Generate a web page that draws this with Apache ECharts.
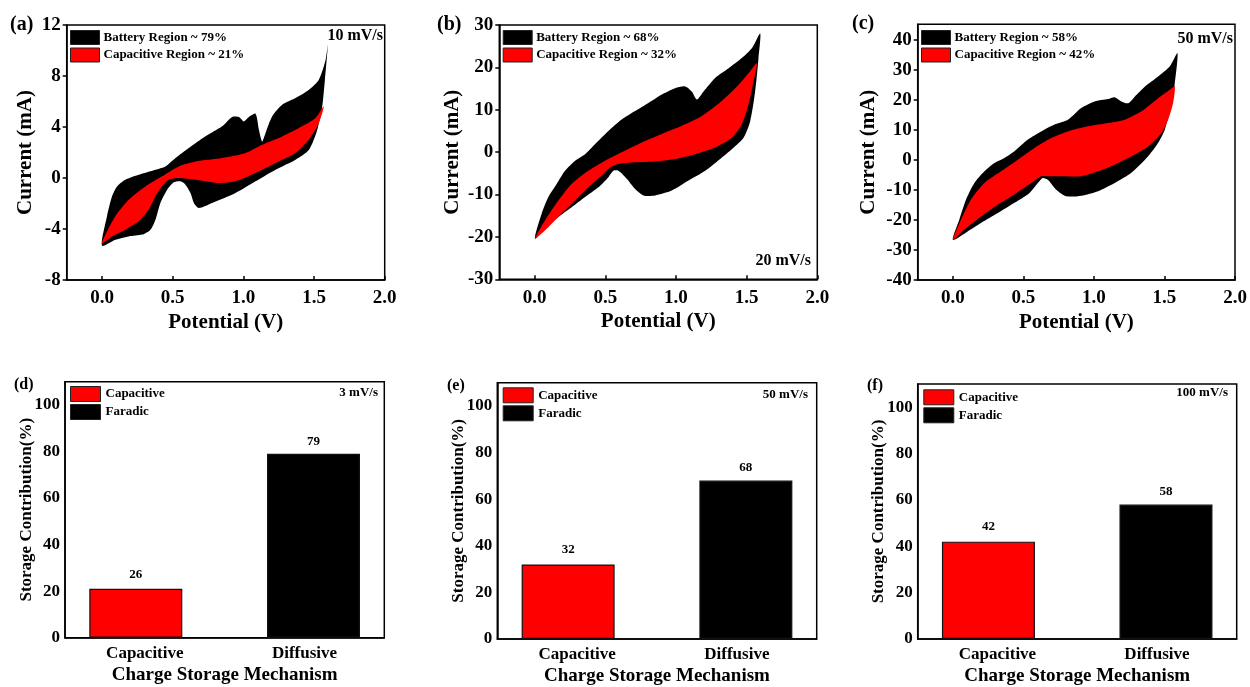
<!DOCTYPE html>
<html>
<head>
<meta charset="utf-8">
<script src="https://cdn.jsdelivr.net/npm/echarts@6/dist/echarts.min.js"></script>
<style>
  html, body { margin: 0; padding: 0; background: #fff; }
  #main { width: 1250px; height: 687px; }
</style>
</head>
<body>
<div id="main"></div>
<script>
  // CV loops: [potential (V), current (mA)], anodic branch then cathodic branch
  const batteryA = [
    [0.0, -5.3], [0.035, -3.0], [0.071, -1.44], [0.106, -0.66], [0.165, -0.13], [0.26, 0.26],
    [0.378, 0.65], [0.449, 0.91], [0.52, 1.57], [0.614, 2.35], [0.732, 3.27], [0.85, 4.05],
    [0.921, 4.78], [0.968, 4.78], [1.003, 4.44], [1.039, 4.78], [1.086, 5.04], [1.11, 3.79],
    [1.133, 2.87], [1.157, 3.53], [1.204, 4.84], [1.275, 5.75], [1.369, 6.27], [1.464, 6.93],
    [1.534, 7.71], [1.582, 9.28], [1.598, 10.46], [1.577, 7.71], [1.558, 5.62], [1.523, 3.79],
    [1.464, 2.22], [1.369, 1.44], [1.228, 0.65], [1.086, -0.26], [0.944, -1.18], [0.779, -1.96],
    [0.685, -2.35], [0.65, -1.96], [0.626, -1.18], [0.59, -0.52], [0.555, -0.26], [0.508, -0.34],
    [0.461, -0.92], [0.413, -1.96], [0.378, -3.27], [0.343, -4.05], [0.284, -4.44], [0.189, -4.58],
    [0.094, -4.84]
  ];
  const capacitiveA = [
    [0.0, -5.1], [0.094, -3.0], [0.189, -1.7], [0.307, -0.66], [0.425, 0.13], [0.543, 0.91],
    [0.661, 1.3], [0.85, 1.57], [1.015, 1.96], [1.133, 2.61], [1.275, 3.26], [1.416, 4.05],
    [1.51, 4.7], [1.569, 5.62], [1.534, 4.31], [1.463, 3.0], [1.369, 1.96], [1.228, 1.18],
    [1.086, 0.39], [0.944, -0.26], [0.826, -0.39], [0.661, -0.13], [0.543, 0.0], [0.472, -0.13],
    [0.425, -0.65], [0.378, -1.44], [0.331, -2.48], [0.26, -3.4], [0.165, -4.05], [0.071, -4.58]
  ];
  const batteryB = [
    [0.003, -20.4], [0.05, -14.5], [0.097, -10.6], [0.156, -7.5], [0.215, -4.4], [0.286, -2],
    [0.357, -0.47], [0.427, 1.87], [0.522, 5.0], [0.616, 7.7], [0.711, 9.7], [0.805, 11.6],
    [0.9, 13.6], [0.994, 15.1], [1.065, 15.5], [1.112, 14.3], [1.148, 12.4], [1.195, 14.3],
    [1.277, 17.5], [1.372, 19.8], [1.466, 22.2], [1.537, 24.5], [1.596, 28.0], [1.584, 22.2],
    [1.56, 14.3], [1.525, 7.3], [1.478, 3.4], [1.405, 1.0], [1.325, -1.25], [1.207, -4.4],
    [1.089, -6.7], [0.97, -9.06], [0.852, -10.2], [0.77, -10.2], [0.711, -8.7], [0.652, -6.3],
    [0.593, -4.4], [0.557, -4.4], [0.522, -5.9], [0.451, -8.3], [0.357, -10.6], [0.262, -13],
    [0.168, -15.3], [0.085, -17.7]
  ];
  const capacitiveB = [
    [0.003, -20.4], [0.073, -16.1], [0.168, -11.4], [0.262, -7.5], [0.38, -4.4], [0.498, -2],
    [0.616, 0], [0.758, 2.3], [0.9, 4.3], [1.041, 6.2], [1.183, 8.5], [1.325, 12.1],
    [1.443, 15.9], [1.525, 19.1], [1.573, 21.0], [1.549, 16.7], [1.514, 11.3], [1.466, 6.6],
    [1.395, 3.4], [1.277, 1.1], [1.136, -0.47], [0.994, -1.6], [0.852, -2.2], [0.711, -2.4],
    [0.593, -2.8], [0.534, -3.6], [0.475, -5.5], [0.38, -8.3], [0.286, -11.4], [0.191, -14.5],
    [0.097, -17.7]
  ];
  const batteryC = [
    [0.0, -26.6], [0.045, -19.9], [0.093, -13.2], [0.152, -7.7], [0.223, -3.8], [0.294, -1],
    [0.365, 0.66], [0.436, 2.9], [0.531, 6.8], [0.626, 9.5], [0.72, 11.8], [0.815, 13.4],
    [0.91, 17.3], [1.005, 19.5], [1.1, 20.3], [1.147, 20.9], [1.194, 19.5], [1.242, 18.9],
    [1.289, 21.1], [1.36, 24.4], [1.455, 27.8], [1.538, 31.2], [1.592, 35.6], [1.573, 25.5],
    [1.538, 16.8], [1.502, 10.1], [1.455, 5.7], [1.384, 1.2], [1.265, -4.3], [1.147, -7.7],
    [1.029, -10.4], [0.91, -11.9], [0.804, -12.1], [0.732, -9.9], [0.673, -6.6], [0.637, -6.0],
    [0.602, -7.7], [0.543, -11], [0.436, -14.3], [0.318, -17.7], [0.199, -21], [0.104, -23.8]
  ];
  const capacitiveC = [
    [0.0, -26.6], [0.057, -19.9], [0.128, -13.2], [0.223, -7.7], [0.341, -3.8], [0.46, 0.1],
    [0.578, 4], [0.697, 7.3], [0.815, 9.5], [0.957, 11.2], [1.1, 12.3], [1.218, 13.4],
    [1.336, 16.2], [1.455, 20.6], [1.538, 23.4], [1.573, 24.5], [1.561, 19], [1.526, 13.4],
    [1.479, 9], [1.384, 4.5], [1.265, 1.2], [1.147, -1.6], [1.029, -3.8], [0.91, -5.4],
    [0.792, -5.4], [0.673, -5.4], [0.626, -5.4], [0.555, -7.7], [0.436, -11.5], [0.318, -14.9],
    [0.199, -18.8], [0.081, -23.2]
  ];

  const cvLegends = [
    ['Battery Region ~ 79%', 'Capacitive Region ~ 21%'],
    ['Battery Region ~ 68%', 'Capacitive Region ~ 32%'],
    ['Battery Region ~ 58%', 'Capacitive Region ~ 42%']
  ];
  const potentialTicks = [0, 0.5, 1.0, 1.5, 2.0];
  const currentTicks = [
    [-8, -4, 0, 4, 8, 12],
    [-30, -20, -10, 0, 10, 20, 30],
    [-40, -30, -20, -10, 0, 10, 20, 30, 40]
  ];

  // bar panels
  const mechanisms = ['Capacitive', 'Diffusive'];
  const capacitiveShare = [21, 32, 42];
  const faradicShare = [79, 68, 58];
  const capacitiveLabels = ['26', '32', '42'];
  const faradicLabels = ['79', '68', '58'];
  const contributionTicks = [0, 20, 40, 60, 80, 100];

  const FONT = 'Liberation Serif';
  const grids = [
    { left: 66.7, top: 25, width: 318, height: 255 },
    { left: 499.3, top: 25, width: 318, height: 254.3 },
    { left: 917.7, top: 24.3, width: 317.3, height: 255.7 },
    { left: 65, top: 381.7, width: 319.3, height: 256 },
    { left: 497.3, top: 382.7, width: 319.4, height: 256.6 },
    { left: 917.7, top: 384, width: 319, height: 256 }
  ];
  const yRanges = [[-8, 12], [-30, 30], [-40, 45.2]];
  const yNameGaps = [30.5, 36.5, 38.5];
  const barNameGaps = [29.5, 30, 30.5];

  function txt(size) {
    return { fontFamily: FONT, fontWeight: 'bold', fontSize: size, color: '#000' };
  }
  const axisLine = { show: true, onZero: false, lineStyle: { color: '#000', width: 1.5 } };

  let chart = echarts.init(document.getElementById('main'));

  let xAxes = [], yAxes = [], series = [], legends = [];

  function loopSeries(name, color, idx, pts) {
    return {
      type: 'custom',
      name: name,
      xAxisIndex: idx,
      yAxisIndex: idx,
      itemStyle: { color: color },
      data: pts,
      encode: { x: 0, y: 1 },
      silent: true,
      renderItem: function (params, api) {
        if (params.dataIndex !== 0) return null;
        return {
          type: 'polygon',
          shape: { points: pts.map(p => api.coord(p)), smooth: 0.25 },
          style: { fill: color }
        };
      }
    };
  }

  const loops = [[batteryA, capacitiveA], [batteryB, capacitiveB], [batteryC, capacitiveC]];
  const legendTops = [[70, 30], [502.7, 30], [921, 30]];

  for (let k = 0; k < 3; k++) {
    xAxes.push({
      type: 'value', gridIndex: k, min: -0.25, max: 2.0,
      axisLine: axisLine,
      axisTick: { inside: true, length: 4, lineStyle: { width: 1.5 }, customValues: potentialTicks },
      axisLabel: Object.assign(txt(19), { margin: 9, customValues: potentialTicks,
        formatter: v => v.toFixed(1) }),
      splitLine: { show: false },
      name: 'Potential (V)', nameLocation: 'middle', nameGap: 32, nameTextStyle: txt(21),
      nameMoveOverlap: false
    });
    yAxes.push({
      type: 'value', gridIndex: k, min: yRanges[k][0], max: yRanges[k][1],
      axisLine: axisLine,
      axisTick: { inside: false, length: 4, lineStyle: { width: 1.5 }, customValues: currentTicks[k] },
      axisLabel: Object.assign(txt(19), { margin: 6, customValues: currentTicks[k] }),
      splitLine: { show: false },
      name: 'Current (mA)', nameLocation: 'middle', nameGap: yNameGaps[k], nameTextStyle: txt(21),
      nameMoveOverlap: false
    });
    series.push(loopSeries(cvLegends[k][0], '#000000', k, loops[k][0]));
    series.push(loopSeries(cvLegends[k][1], '#ff0000', k, loops[k][1]));
    legends.push({
      left: legendTops[k][0], top: legendTops[k][1], orient: 'vertical', padding: 0,
      data: cvLegends[k], icon: 'rect', itemWidth: 29, itemHeight: 14, itemGap: 2.5,
      itemStyle: { borderColor: '#222', borderWidth: 1 },
      textStyle: Object.assign(txt(13), { padding: [0, 0, 0, -1] }), selectedMode: false
    });
  }

  const barLegendPos = [[70, 386], [502.7, 387.3], [923.3, 389.3]];
  for (let k = 0; k < 3; k++) {
    let gi = k + 3;
    xAxes.push({
      type: 'category', gridIndex: gi, data: mechanisms,
      axisLine: axisLine,
      axisTick: { inside: true, length: 4, alignWithLabel: true, lineStyle: { width: 1.5 } },
      axisLabel: Object.assign(txt(17), { margin: 7 }),
      name: 'Charge Storage Mechanism', nameLocation: 'middle', nameGap: 28, nameTextStyle: txt(19),
      nameMoveOverlap: false
    });
    yAxes.push({
      type: 'value', gridIndex: gi, min: 0, max: 110,
      axisLine: axisLine,
      axisTick: { inside: false, length: 4, lineStyle: { width: 1.5 }, customValues: contributionTicks },
      axisLabel: Object.assign(txt(17), { margin: 5, customValues: contributionTicks }),
      splitLine: { show: false },
      name: 'Storage Contribution(%)', nameLocation: 'middle', nameGap: barNameGaps[k],
      nameTextStyle: txt(17), nameMoveOverlap: false
    });
    series.push({
      type: 'bar', name: 'Capacitive', xAxisIndex: gi, yAxisIndex: gi,
      data: [capacitiveShare[k], '-'], barWidth: 93, barGap: '-80.6%',
      itemStyle: { color: '#ff0000', borderColor: '#111', borderWidth: 1.2 },
      label: { show: true, position: 'top', distance: 8, ...txt(13),
        formatter: p => capacitiveLabels[k] }
    });
    series.push({
      type: 'bar', name: 'Faradic', xAxisIndex: gi, yAxisIndex: gi,
      data: ['-', faradicShare[k]], barWidth: 93, barGap: '-80.6%',
      itemStyle: { color: '#000000', borderColor: '#111', borderWidth: 1.2 },
      label: { show: true, position: 'top', distance: 6, ...txt(13),
        formatter: p => faradicLabels[k] }
    });
    legends.push({
      left: barLegendPos[k][0], top: barLegendPos[k][1], orient: 'vertical', padding: 0,
      data: ['Capacitive', 'Faradic'], icon: 'rect', itemWidth: 30, itemHeight: 15, itemGap: 2,
      itemStyle: { borderColor: '#222', borderWidth: 1 },
      textStyle: txt(13), selectedMode: false
    });
  }

  function note(x, y, text, size, align) {
    return {
      type: 'text', x: x, y: y,
      style: { text: text, fontFamily: FONT, fontWeight: 'bold', fontSize: size, fill: '#000',
        align: align || 'left', verticalAlign: 'middle' }
    };
  }

  let option = {
    animation: false,
    backgroundColor: '#fff',
    grid: grids.map(g => Object.assign({ show: true, borderColor: '#000', borderWidth: 1.5 }, g)),
    xAxis: xAxes,
    yAxis: yAxes,
    legend: legends,
    series: series,
    graphic: [
      note(10, 25, '(a)', 20), note(437, 25, '(b)', 20), note(852, 24, '(c)', 20),
      note(383, 36, '10 mV/s', 16, 'right'),
      note(811, 261, '20 mV/s', 16, 'right'),
      note(1233, 39, '50 mV/s', 16, 'right'),
      note(14, 385, '(d)', 16), note(447, 386, '(e)', 16), note(867, 386, '(f)', 16),
      note(378, 393, '3 mV/s', 13, 'right'),
      note(808, 395, '50 mV/s', 13, 'right'),
      note(1228, 393, '100 mV/s', 13, 'right')
    ]
  };
  chart.setOption(option);
</script>
</body>
</html>
